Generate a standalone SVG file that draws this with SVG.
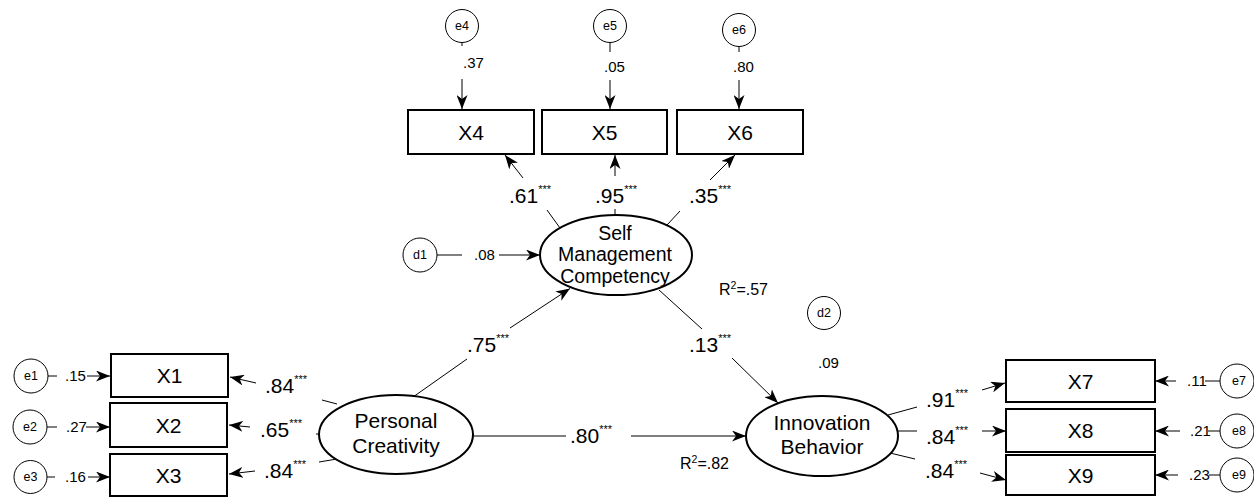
<svg xmlns="http://www.w3.org/2000/svg" width="1254" height="497" viewBox="0 0 1254 497">
<style>
text{font-family:"Liberation Sans",Arial,sans-serif;fill:#000}
.box{fill:#fff;stroke:#000;stroke-width:2}
.lat{fill:#fff;stroke:#000;stroke-width:2}
.err{fill:#fff;stroke:#000;stroke-width:1}
.ln{stroke:#000;stroke-width:1;fill:none}
.bl{font-size:21px;text-anchor:middle}
.ll{font-size:21px;text-anchor:middle}
.el{font-size:12.5px;text-anchor:middle}
.sm{font-size:15px}
.big{font-size:21px}
.sup{font-size:11px}
</style>
<defs>
<marker id="ah" viewBox="0 0 14 11" refX="14" refY="5.5" markerWidth="14" markerHeight="11" markerUnits="userSpaceOnUse" orient="auto">
<path d="M0,0 L14,5.5 L0,11 L4,5.5 Z" fill="#000"/>
</marker>
</defs>

<g id="connectors">
<line class="ln" x1="462" y1="42" x2="462" y2="46"/>
<line class="ln" x1="462" y1="79" x2="462" y2="109" marker-end="url(#ah)"/>
<line class="ln" x1="610" y1="42" x2="610" y2="52"/>
<line class="ln" x1="610" y1="80" x2="610" y2="109" marker-end="url(#ah)"/>
<line class="ln" x1="739" y1="46" x2="739" y2="52"/>
<line class="ln" x1="739" y1="80" x2="739" y2="109" marker-end="url(#ah)"/>
<line class="ln" x1="560" y1="228" x2="547" y2="210"/>
<line class="ln" x1="523" y1="178" x2="505" y2="155" marker-end="url(#ah)"/>
<line class="ln" x1="615" y1="215" x2="615" y2="209"/>
<line class="ln" x1="615" y1="176" x2="615" y2="155" marker-end="url(#ah)"/>
<line class="ln" x1="667" y1="225" x2="680" y2="211"/>
<line class="ln" x1="710" y1="180" x2="735" y2="155" marker-end="url(#ah)"/>
<line class="ln" x1="437" y1="255" x2="462" y2="255"/>
<line class="ln" x1="499" y1="255" x2="540" y2="255" marker-end="url(#ah)"/>
<line class="ln" x1="413" y1="397" x2="467" y2="359"/>
<line class="ln" x1="510" y1="328" x2="570" y2="288.5" marker-end="url(#ah)"/>
<line class="ln" x1="659" y1="290" x2="702" y2="329"/>
<line class="ln" x1="732" y1="358" x2="778" y2="403" marker-end="url(#ah)"/>
<line class="ln" x1="473" y1="436" x2="566" y2="436"/>
<line class="ln" x1="631" y1="436" x2="746" y2="436" marker-end="url(#ah)"/>
<line class="ln" x1="337" y1="404" x2="322" y2="400"/>
<line class="ln" x1="256" y1="383" x2="230" y2="377" marker-end="url(#ah)"/>
<line class="ln" x1="321" y1="434" x2="316" y2="434"/>
<line class="ln" x1="250" y1="427" x2="229" y2="425" marker-end="url(#ah)"/>
<line class="ln" x1="337" y1="459" x2="319" y2="462"/>
<line class="ln" x1="255" y1="471" x2="229" y2="474" marker-end="url(#ah)"/>
<line class="ln" x1="48" y1="376" x2="57" y2="376"/>
<line class="ln" x1="87" y1="376" x2="110" y2="376" marker-end="url(#ah)"/>
<line class="ln" x1="47" y1="427" x2="57" y2="427"/>
<line class="ln" x1="86" y1="427" x2="110" y2="427" marker-end="url(#ah)"/>
<line class="ln" x1="47" y1="477" x2="55" y2="477"/>
<line class="ln" x1="88" y1="477" x2="110" y2="477" marker-end="url(#ah)"/>
<line class="ln" x1="888" y1="415" x2="917" y2="407"/>
<line class="ln" x1="982" y1="390" x2="1005" y2="383" marker-end="url(#ah)"/>
<line class="ln" x1="898" y1="431" x2="917" y2="431"/>
<line class="ln" x1="982" y1="431" x2="1006" y2="431" marker-end="url(#ah)"/>
<line class="ln" x1="890" y1="453" x2="915" y2="459"/>
<line class="ln" x1="980" y1="473" x2="1006" y2="480" marker-end="url(#ah)"/>
<line class="ln" x1="1176" y1="381" x2="1155" y2="381" marker-end="url(#ah)"/>
<line class="ln" x1="1205" y1="381" x2="1220" y2="381"/>
<line class="ln" x1="1180" y1="431" x2="1155" y2="431" marker-end="url(#ah)"/>
<line class="ln" x1="1208" y1="431" x2="1220" y2="431"/>
<line class="ln" x1="1178" y1="475" x2="1155" y2="475" marker-end="url(#ah)"/>
<line class="ln" x1="1209" y1="475" x2="1220" y2="475"/>
</g>

<g id="labels">
<text class="sm" x="463" y="68">.37</text>
<text class="sm" x="604" y="72">.05</text>
<text class="sm" x="733" y="72">.80</text>
<text class="big" x="509" y="203">.61<tspan class="sup" dy="-10">***</tspan></text>
<text class="big" x="595" y="203">.95<tspan class="sup" dy="-10">***</tspan></text>
<text class="big" x="689" y="203">.35<tspan class="sup" dy="-10">***</tspan></text>
<text class="sm" x="474" y="260">.08</text>
<text font-size="16" x="719" y="295">R<tspan font-size="10.5" dy="-6">2</tspan><tspan dy="6">=.57</tspan></text>
<text class="big" x="467" y="352">.75<tspan class="sup" dy="-10">***</tspan></text>
<text class="big" x="689" y="352">.13<tspan class="sup" dy="-10">***</tspan></text>
<text class="sm" x="818" y="368">.09</text>
<text class="big" x="570" y="443">.80<tspan class="sup" dy="-10">***</tspan></text>
<text font-size="16" x="680" y="469">R<tspan font-size="10.5" dy="-6">2</tspan><tspan dy="6">=.82</tspan></text>
<text class="big" x="265" y="393">.84<tspan class="sup" dy="-10">***</tspan></text>
<text class="big" x="260" y="437">.65<tspan class="sup" dy="-10">***</tspan></text>
<text class="big" x="264" y="478">.84<tspan class="sup" dy="-10">***</tspan></text>
<text class="sm" x="65" y="381">.15</text>
<text class="sm" x="66" y="432">.27</text>
<text class="sm" x="65" y="482">.16</text>
<text class="big" x="926" y="407">.91<tspan class="sup" dy="-10">***</tspan></text>
<text class="big" x="926" y="444">.84<tspan class="sup" dy="-10">***</tspan></text>
<text class="big" x="925" y="478">.84<tspan class="sup" dy="-10">***</tspan></text>
<text class="sm" x="1187" y="386">.11</text>
<text class="sm" x="1190" y="436">.21</text>
<text class="sm" x="1189" y="480">.23</text>
</g>

<g id="e4"><circle class="err" cx="462" cy="26" r="16.5"/><text class="el" x="462" y="30">e4</text></g>
<g id="e5"><circle class="err" cx="610" cy="26" r="16.5"/><text class="el" x="610" y="30">e5</text></g>
<g id="e6"><circle class="err" cx="739" cy="30" r="16.5"/><text class="el" x="739" y="34">e6</text></g>
<g id="X4"><rect class="box" x="408" y="110" width="126" height="44"/><text class="bl" x="471" y="139.5">X4</text></g>
<g id="X5"><rect class="box" x="542" y="110" width="125" height="44"/><text class="bl" x="604.5" y="139.5">X5</text></g>
<g id="X6"><rect class="box" x="677" y="110" width="126" height="44"/><text class="bl" x="740" y="139.5">X6</text></g>
<g id="d1"><circle class="err" cx="420" cy="255" r="17"/><text class="el" x="420" y="259">d1</text></g>
<g id="SMC"><ellipse class="lat" cx="616" cy="255" rx="76" ry="40"/>
<text font-size="19.5" text-anchor="middle" x="615" y="240">Self</text>
<text font-size="19.5" text-anchor="middle" x="615" y="261">Management</text>
<text font-size="19.5" text-anchor="middle" x="615" y="283">Competency</text></g>
<g id="d2"><circle class="err" cx="824" cy="313" r="16.5"/><text class="el" x="824" y="317">d2</text></g>
<g id="PC"><ellipse class="lat" cx="396" cy="434.5" rx="77" ry="39.5"/>
<text class="ll" x="396" y="428">Personal</text>
<text class="ll" x="396" y="453">Creativity</text></g>
<g id="IB"><ellipse class="lat" cx="822" cy="436" rx="76" ry="40"/>
<text class="ll" x="822" y="430">Innovation</text>
<text class="ll" x="822" y="454">Behavior</text></g>
<g id="X1"><rect class="box" x="111" y="354" width="117" height="43"/><text class="bl" x="169.5" y="383">X1</text></g>
<g id="X2"><rect class="box" x="110" y="403" width="117" height="44"/><text class="bl" x="168.5" y="432.5">X2</text></g>
<g id="X3"><rect class="box" x="110" y="454" width="117" height="42"/><text class="bl" x="168.5" y="482.5">X3</text></g>
<g id="e1"><circle class="err" cx="31" cy="376" r="17"/><text class="el" x="31" y="380">e1</text></g>
<g id="e2"><circle class="err" cx="30" cy="427" r="17"/><text class="el" x="30" y="431">e2</text></g>
<g id="e3"><circle class="err" cx="30.5" cy="477" r="16.5"/><text class="el" x="30.5" y="481">e3</text></g>
<g id="X7"><rect class="box" x="1006" y="360" width="149" height="42"/><text class="bl" x="1080.5" y="388.5">X7</text></g>
<g id="X8"><rect class="box" x="1006" y="409" width="149" height="43"/><text class="bl" x="1080.5" y="438">X8</text></g>
<g id="X9"><rect class="box" x="1006" y="455" width="149" height="40"/><text class="bl" x="1080.5" y="482.5">X9</text></g>
<g id="e7"><circle class="err" cx="1237" cy="381" r="17"/><text class="el" x="1239" y="385">e7</text></g>
<g id="e8"><circle class="err" cx="1237" cy="431" r="17"/><text class="el" x="1239" y="435">e8</text></g>
<g id="e9"><circle class="err" cx="1237" cy="475" r="17"/><text class="el" x="1239" y="479">e9</text></g>
</svg>
